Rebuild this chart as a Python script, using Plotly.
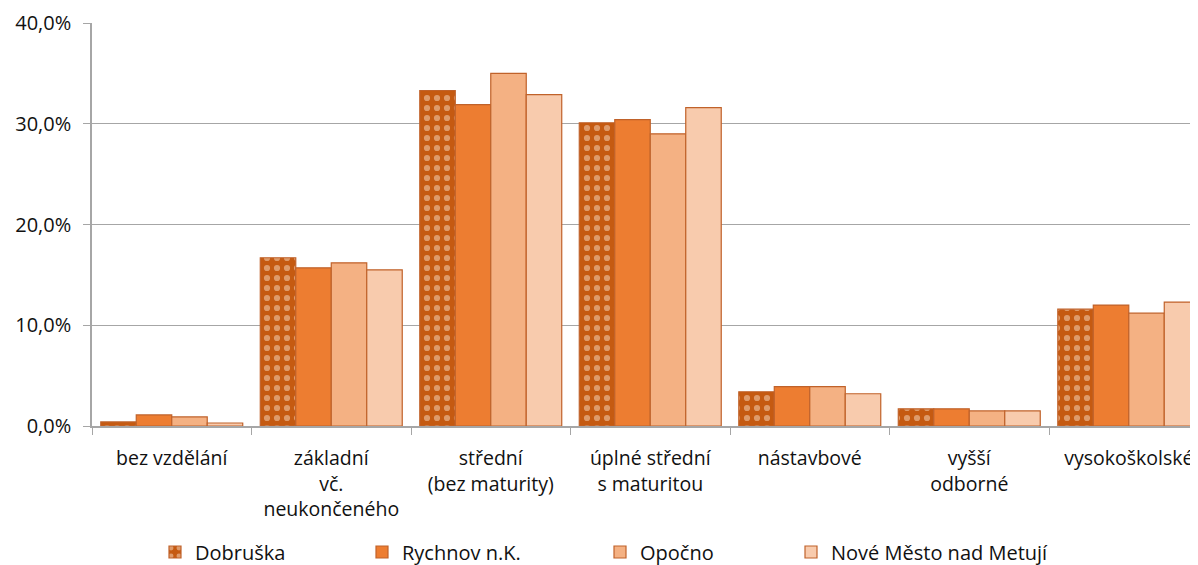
import plotly.graph_objects as go

categories = ['bez vzdělání', 'základní<br>vč.<br>neukončeného', 'střední<br>(bez maturity)',
              'úplné střední<br>s maturitou', 'nástavbové', 'vyšší<br>odborné', 'vysokoškolské']

dobruska = [0.4, 16.7, 33.3, 30.1, 3.4, 1.7, 11.6]
rychnov = [1.1, 15.7, 31.9, 30.4, 3.9, 1.7, 12.0]
opocno = [0.9, 16.2, 35.0, 29.0, 3.9, 1.5, 11.2]
nove_mesto = [0.3, 15.5, 32.9, 31.6, 3.2, 1.5, 12.3]

y_ticks = [0, 10, 20, 30, 40]
y_tick_labels = ['0,0%', '10,0%', '20,0%', '30,0%', '40,0%']

series = [
    ('Dobruška', dobruska, '#C55A11'),
    ('Rychnov n.K.', rychnov, '#ED7D31'),
    ('Opočno', opocno, '#F4B183'),
    ('Nové Město nad Metují', nove_mesto, '#F8CBAD'),
]

W, H = 1190, 557  # page body has an 8px margin
legend_x = [147, 354, 592, 783]  # left edge of each legend entry, px

fig = go.Figure()
for i, (name, vals, color) in enumerate(series):
    marker = dict(color=color, line=dict(color='#C0622A', width=1.2))
    if i == 0:
        # dotted fill like the Excel pattern
        marker['pattern'] = dict(shape='.', fgcolor='#F8DCC6', size=10, solidity=0.3,
                                 fillmode='overlay')
    leg = 'legend' if i == 0 else f'legend{i + 1}'
    fig.add_trace(go.Bar(x=categories, y=vals, name=name, marker=marker, legend=leg))

legends = {}
for i, lx in enumerate(legend_x):
    key = 'legend' if i == 0 else f'legend{i + 1}'
    legends[key] = dict(
        orientation='h', xref='container', yref='container',
        x=lx / W, xanchor='left', y=(H - 544) / H, yanchor='middle',
        font=dict(size=20), bgcolor='rgba(0,0,0,0)',
    )

fig.update_layout(
    width=W, height=H,
    barmode='group', bargap=0.11, bargroupgap=0,
    plot_bgcolor='white', paper_bgcolor='white',
    font=dict(family='Open Sans, sans-serif', size=20, color='#111111'),
    margin=dict(l=84, r=0, t=15, b=139),
    xaxis=dict(
        range=[-0.5, 6.434],
        showgrid=False,
        showline=True, linecolor='#A6A6A6', linewidth=1.5,
        ticks='outside', tickson='boundaries', ticklen=7, tickcolor='#A6A6A6',
        ticklabelstandoff=14, tickfont=dict(size=19.5),
        automargin=False,
    ),
    yaxis=dict(
        range=[0, 40], tickvals=y_ticks, ticktext=y_tick_labels,
        showgrid=True, gridcolor='#A6A6A6', gridwidth=1.2,
        showline=True, linecolor='#A6A6A6', linewidth=1.5,
        ticks='outside', ticklen=7, tickcolor='#A6A6A6',
        ticklabelstandoff=8,
        zeroline=False, automargin=False,
    ),
    showlegend=True,
    **legends,
)

fig.write_html('out.html')
